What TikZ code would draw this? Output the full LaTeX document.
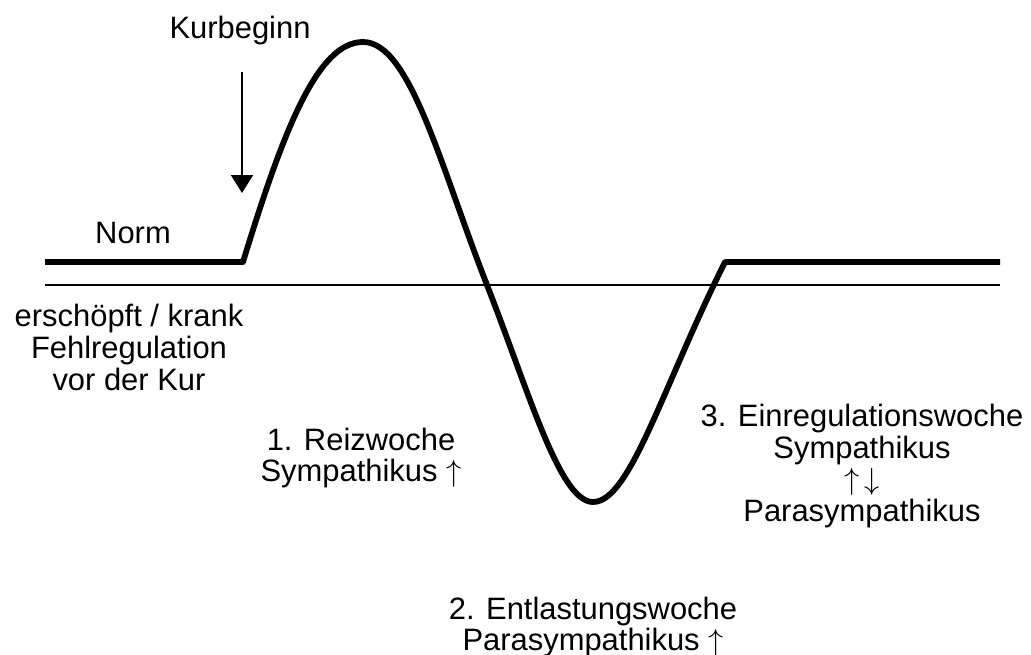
\documentclass[tikz,border=0pt]{standalone}
\usepackage{fontspec}
\setmainfont{Liberation Sans}
\usetikzlibrary{arrows.meta}

\newcommand{\hoch}{\smash{$\uparrow$}}
\newcommand{\hochtief}{\smash{$\uparrow\,\downarrow$}}

\begin{document}
\begin{tikzpicture}[x=0.02cm, y=-0.02cm,
    lbl/.style={align=center, inner sep=0pt,
                font=\fontsize{17.6}{18.2}\selectfont},
    base/.style={line width=1.1pt, black},
    kurve/.style={line width=3.3pt, black, line join=round},
    arr/.style={-{Triangle[length=3.6mm, width=4.4mm]}, line width=1.2pt}
  ]
    \useasboundingbox (0,0) rectangle (1031,655);

    % Grundlinie und Verlauf
    \coordinate (b0) at (45,285);
    \coordinate (b1) at (1000,285);
    \draw[base] (b0) -- (b1);

    \coordinate (n0) at (45,262);
    \coordinate (n1) at (243,262);
    \coordinate (top) at (363,42);
    \coordinate (x1) at (487,285);
    \coordinate (tief) at (593,502);
    \coordinate (n2) at (725,262);
    \coordinate (n3) at (1000,262);
    \draw[kurve] (n0) -- (n1)
        .. controls (284,128) and (318,42) .. (top)
        .. controls (410,42) and (440,165) .. (x1)
        .. controls (530,395) and (560,502) .. (tief)
        .. controls (630,502) and (662,388) .. (n2)
        -- (n3);

    % Beschriftung
    \node[lbl] (kur) at (240,31) {Kurbeginn};
    \coordinate (k0) at (242,72);
    \coordinate (k1) at (242,193);
    \draw[arr] (k0) -- (k1);

    \node[lbl] (norm) at (133,233) {Norm};
    \node[lbl] (krank) at (129,347) {erschöpft / krank\\Fehlregulation\\vor der Kur};
    \node[lbl] (w1) at (361,458) {1. Reizwoche\\Sympathikus \hoch};
    \node[lbl] (w3) at (862,466) {3. Einregulationswoche\\Sympathikus\\\hochtief\\Parasympathikus};
    \node[lbl] (w2) at (593,627) {2. Entlastungswoche\\Parasympathikus \hoch};
  \end{tikzpicture}
\end{document}
